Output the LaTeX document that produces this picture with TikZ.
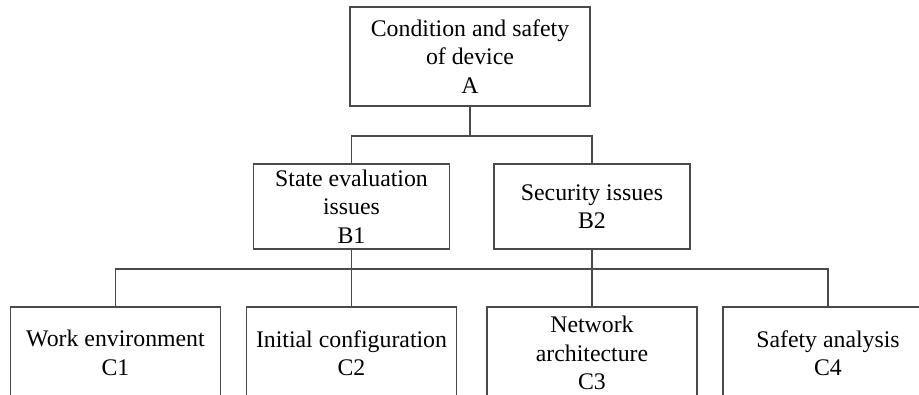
\documentclass[tikz,border=0pt]{standalone}
\usepackage{fontspec}
\setmainfont{Liberation Serif}
\definecolor{linegray}{HTML}{4A4A4A}
\begin{document}
\begin{tikzpicture}[x=1pt,y=-1pt,
  box/.style={draw=linegray, line width=1.1pt, inner sep=0pt, align=center,
    font=\fontsize{23.8}{28.5}\selectfont},
  topbox/.style={box, minimum width=240pt, minimum height=99pt},
  midbox/.style={box, minimum width=196pt, minimum height=85pt},
  leafbox/.style={box, minimum width=210pt, minimum height=92pt},
  link/.style={draw=linegray, line width=1.1pt}]
\useasboundingbox (0,0) rectangle (919,394);
\clip (0,0) rectangle (919,394);

% top level
\node[topbox] (A) at (470,56.5) {Condition and safety\\of device\\A};

% second level
\node[midbox] (B1) at (351.5,206.5) {State evaluation\\issues\\B1};
\node[midbox] (B2) at (592,206.5) {Security issues\\B2};

% third level (boxes run past the lower edge)
\node[leafbox] (C1) at (115.5,353) {Work environment\\C1};
\node[leafbox] (C2) at (351.5,353) {Initial configuration\\C2};
\node[leafbox] (C3) at (592,353) {Network\\architecture\\C3};
\node[leafbox] (C4) at (828,353) {Safety analysis\\C4};

% bus lines
\coordinate (busAB) at (470,136);
\coordinate (busBC) at (470,269);

\draw[link] (A.south) -- (busAB);
\draw[link] (B1.north) -- (B1.north |- busAB) -- (B2.north |- busAB) -- (B2.north);

\draw[link] (C1.north) -- (C1.north |- busBC) -- (C4.north |- busBC) -- (C4.north);
\draw[link] (B1.south) -- (C2.north);
\draw[link] (B2.south) -- (C3.north);
\end{tikzpicture}
\end{document}
